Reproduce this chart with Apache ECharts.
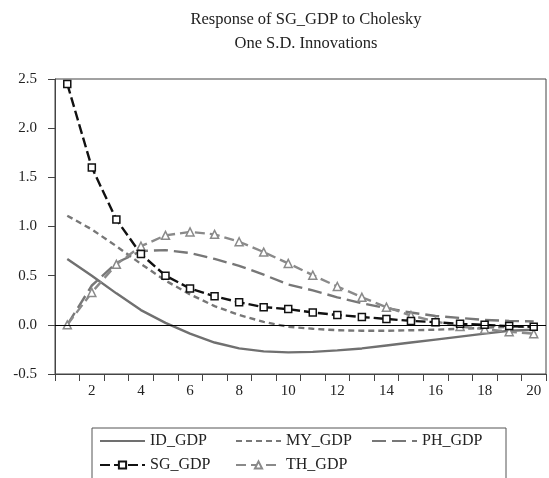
<!DOCTYPE html>
<html>
<head>
<meta charset="utf-8">
<script src="https://cdn.jsdelivr.net/npm/echarts@6/dist/echarts.min.js"></script>
<style>
  html, body { margin: 0; padding: 0; background: #fff; }
  #chart { width: 549px; height: 478px; }
</style>
</head>
<body>
<div id="chart"></div>
<script>
// Impulse responses of SG_GDP over 20 periods
const periods = [1,2,3,4,5,6,7,8,9,10,11,12,13,14,15,16,17,18,19,20];
const idGdp = [0.67,0.50,0.32,0.15,0.02,-0.09,-0.18,-0.24,-0.27,-0.28,-0.275,-0.26,-0.24,-0.21,-0.18,-0.15,-0.12,-0.09,-0.06,-0.05];
const myGdp = [1.11,0.97,0.80,0.62,0.45,0.31,0.19,0.10,0.03,-0.02,-0.04,-0.055,-0.06,-0.06,-0.055,-0.05,-0.04,-0.03,-0.02,-0.02];
const phGdp = [0.00,0.40,0.63,0.75,0.76,0.73,0.67,0.60,0.51,0.41,0.35,0.28,0.22,0.17,0.125,0.09,0.07,0.05,0.04,0.035];
const sgGdp = [2.45,1.60,1.07,0.72,0.50,0.37,0.29,0.23,0.18,0.16,0.125,0.10,0.08,0.06,0.04,0.027,0.01,0.00,-0.013,-0.02];
const thGdp = [0.00,0.33,0.615,0.80,0.91,0.945,0.92,0.845,0.74,0.625,0.505,0.39,0.28,0.18,0.095,0.034,-0.017,-0.044,-0.07,-0.09];
const yTicks = { min: -0.5, max: 2.5, step: 0.5 };

const serif = "'Liberation Serif', 'Times New Roman', serif";
const textColor = '#222';

// plain line series hide their marker in the legend
const noMarker = { itemStyle: { opacity: 0 } };

const chart = echarts.init(document.getElementById('chart'));
chart.setOption({
  backgroundColor: '#fff',
  animation: false,
  title: {
    text: 'Response of SG_GDP to Cholesky\nOne S.D. Innovations',
    left: 301, top: 3, textAlign: 'center',
    textStyle: { fontFamily: serif, fontSize: 16.5, fontWeight: 'normal', color: textColor, lineHeight: 24 }
  },
  grid: {
    left: 55, right: 3, top: 79, bottom: 104,
    show: true, borderColor: '#444', borderWidth: 1, backgroundColor: 'transparent'
  },
  legend: {
    left: 92, top: 428,
    orient: 'horizontal', width: 430,
    borderColor: '#555', borderWidth: 1,
    padding: [5, 7, 40, 7],
    itemWidth: 45, itemHeight: 9, itemGap: 8,
    formatter: '{a|{name}}',
    textStyle: {
      fontFamily: serif, fontSize: 16, color: textColor,
      rich: { a: { width: 77, fontFamily: serif, fontSize: 16, color: textColor, lineHeight: 16 } }
    },
    data: [
      Object.assign({ name: 'ID_GDP' }, noMarker),
      Object.assign({ name: 'MY_GDP' }, noMarker),
      Object.assign({ name: 'PH_GDP' }, noMarker),
      { name: 'SG_GDP' },
      { name: 'TH_GDP' }
    ]
  },
  xAxis: {
    type: 'category', data: periods, boundaryGap: true,
    axisLine: { onZero: false, lineStyle: { color: '#444', width: 1 } },
    axisTick: { show: true, interval: 0, length: 7, inside: false, lineStyle: { color: '#444' } },
    axisLabel: {
      interval: (i) => i % 2 === 1,
      margin: 10, fontFamily: serif, fontSize: 15, color: textColor
    },
    splitLine: { show: false }
  },
  yAxis: {
    type: 'value', min: yTicks.min, max: yTicks.max, interval: yTicks.step,
    axisLine: { show: true, lineStyle: { color: '#444', width: 1 } },
    axisTick: { show: true, length: 7, lineStyle: { color: '#444' } },
    axisLabel: {
      margin: 18, fontFamily: serif, fontSize: 15, color: textColor,
      formatter: (v) => v.toFixed(1)
    },
    splitLine: { show: false }
  },
  series: [
    {
      name: 'ID_GDP', type: 'line', data: idGdp, smooth: false, showSymbol: false, symbol: 'none',
      lineStyle: { color: '#707070', width: 2.4, type: 'solid' }, itemStyle: { color: '#707070' },
      markLine: {
        silent: true, symbol: 'none', label: { show: false },
        lineStyle: { color: '#000', width: 1, type: 'solid' },
        data: [{ yAxis: 0 }]
      },
      z: 2
    },
    {
      name: 'MY_GDP', type: 'line', data: myGdp, smooth: false, showSymbol: false, symbol: 'none',
      lineStyle: { color: '#777', width: 2.4, type: [6, 4] }, itemStyle: { color: '#777' }, z: 2
    },
    {
      name: 'PH_GDP', type: 'line', data: phGdp, smooth: false, showSymbol: false, symbol: 'none',
      lineStyle: { color: '#777', width: 2.4, type: [14, 6] }, itemStyle: { color: '#777' }, z: 2
    },
    {
      name: 'SG_GDP', type: 'line', data: sgGdp, smooth: false,
      symbol: 'rect', symbolSize: 7, showSymbol: true,
      lineStyle: { color: '#111', width: 2.4, type: [10, 4] },
      itemStyle: { color: '#fff', borderColor: '#111', borderWidth: 1.5 }, z: 4
    },
    {
      name: 'TH_GDP', type: 'line', data: thGdp, smooth: false,
      symbol: 'triangle', symbolSize: 8, showSymbol: true,
      lineStyle: { color: '#8a8a8a', width: 2.4, type: [10, 5] },
      itemStyle: { color: '#fff', borderColor: '#8a8a8a', borderWidth: 1.5 }, z: 3
    }
  ]
});
</script>
</body>
</html>
